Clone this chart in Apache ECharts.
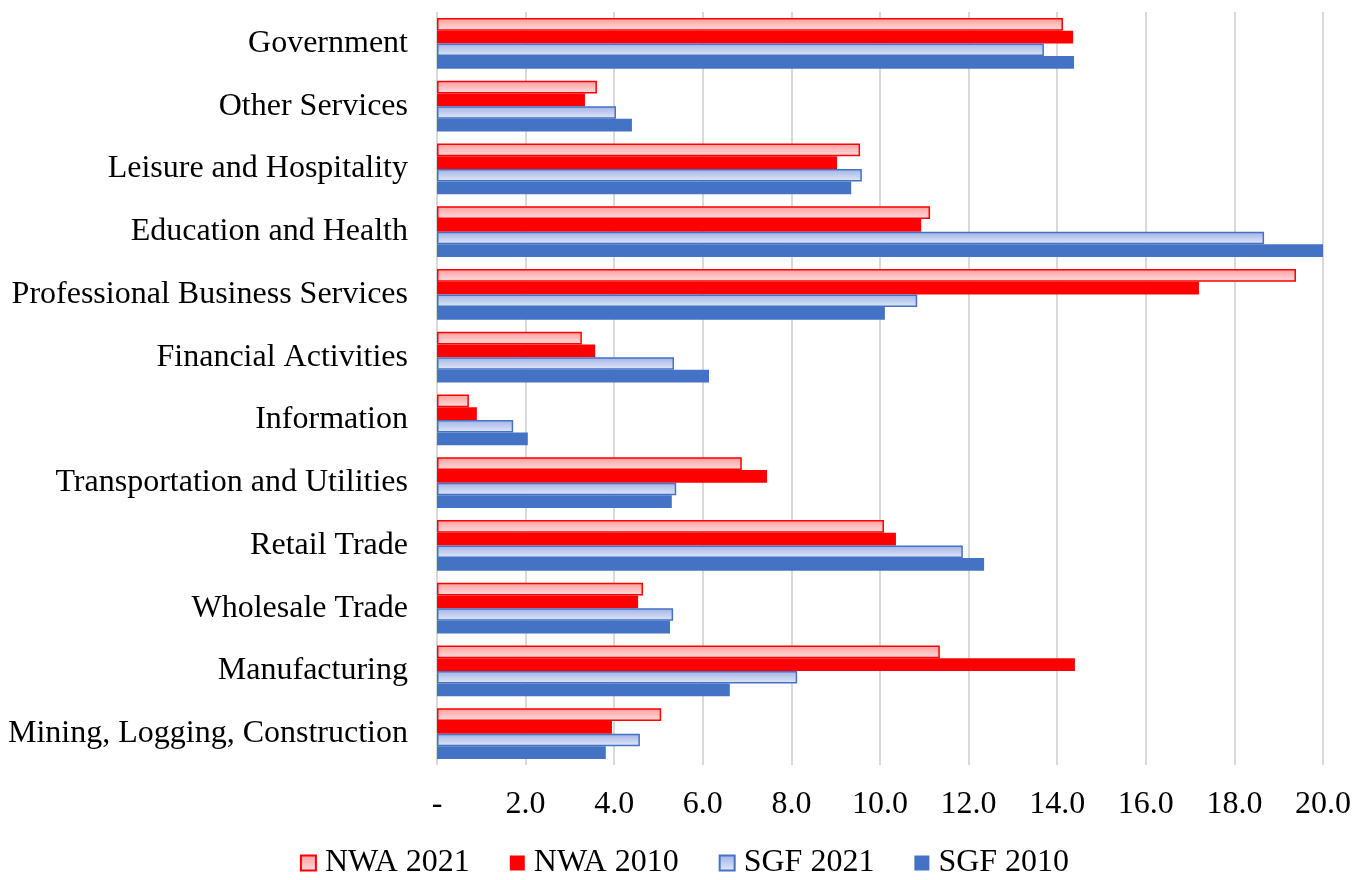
<!DOCTYPE html>
<html>
<head>
<meta charset="utf-8">
<title>Employment by sector</title>
<script src="https://cdn.jsdelivr.net/npm/echarts@6/dist/echarts.min.js"></script>
<style>
  html, body { margin: 0; padding: 0; background: #fff; }
  #chart { width: 1369px; height: 880px; }
</style>
</head>
<body>
<div id="chart"></div>
<script>
// categories, bottom to top
const categories = [
  'Mining, Logging, Construction', 'Manufacturing', 'Wholesale Trade', 'Retail Trade',
  'Transportation and Utilities', 'Information', 'Financial Activities',
  'Professional Business Services', 'Education and Health', 'Leisure and Hospitality',
  'Other Services', 'Government'
];

const nwa2021 = [5.06, 11.35, 4.65, 10.09, 6.88, 0.72, 3.27, 19.39, 11.13, 9.55, 3.61, 14.13];
const nwa2010 = [3.95, 14.40, 4.54, 10.36, 7.45, 0.90, 3.57, 17.20, 10.93, 9.03, 3.34, 14.36];
const sgf2021 = [4.58, 8.13, 5.33, 11.87, 5.40, 1.72, 5.35, 10.84, 18.67, 9.59, 4.04, 13.70];
const sgf2010 = [3.81, 6.61, 5.26, 12.35, 5.30, 2.05, 6.14, 10.11, 20.00, 9.35, 4.40, 14.38];

const font = '"Liberation Serif", "Times New Roman", serif';

// 浅色渐变填充
const pinkFill = new echarts.graphic.LinearGradient(0, 0, 0, 1, [
  { offset: 0, color: '#ff9c9c' },
  { offset: 1, color: '#ffdede' }
]);
const blueFill = new echarts.graphic.LinearGradient(0, 0, 0, 1, [
  { offset: 0, color: '#9fb2e6' },
  { offset: 1, color: '#e3e9f7' }
]);

const chart = echarts.init(document.getElementById('chart'));

const option = {
  animation: false,
  textStyle: { fontFamily: font },
  grid: { left: 437, right: 46, top: 12, bottom: 115 },
  legend: {
    bottom: -4,
    icon: 'rect',
    itemWidth: 15,
    itemHeight: 15,
    itemGap: 40,
    textStyle: { fontFamily: font, fontSize: 32, color: '#000', padding: [0, 0, 0, 4] },
    data: ['NWA 2021', 'NWA 2010', 'SGF 2021', 'SGF 2010']
  },
  xAxis: {
    type: 'value',
    min: 0,
    max: 20,
    interval: 2,
    axisLine: { show: false },
    axisTick: { show: false },
    splitLine: { show: true, lineStyle: { color: '#d9d9d9', width: 2 } },
    axisLabel: {
      margin: 24,
      fontFamily: font,
      fontSize: 32,
      color: '#000',
      formatter: v => v === 0 ? '-' : v.toFixed(1)
    }
  },
  yAxis: {
    type: 'category',
    data: categories,
    axisLine: { show: false },
    axisTick: { show: false },
    axisLabel: { margin: 29, fontFamily: font, fontSize: 32, color: '#000', padding: [7, 0, 0, 0] }
  },
  series: [
    {
      name: 'NWA 2021', type: 'bar', data: nwa2021,
      barGap: '0%', barCategoryGap: '19%',
      itemStyle: { color: pinkFill, borderColor: '#ff0000', borderWidth: 1.5 }
    },
    {
      name: 'NWA 2010', type: 'bar', data: nwa2010,
      itemStyle: { color: '#ff0000' }
    },
    {
      name: 'SGF 2021', type: 'bar', data: sgf2021,
      itemStyle: { color: blueFill, borderColor: '#4472c4', borderWidth: 1.5 }
    },
    {
      name: 'SGF 2010', type: 'bar', data: sgf2010,
      itemStyle: { color: '#4472c4' }
    }
  ]
};

chart.setOption(option);

window.addEventListener('resize', function () {
  chart.resize();
});
</script>
</body>
</html>
